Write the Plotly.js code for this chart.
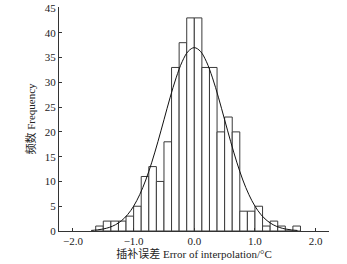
<!DOCTYPE html>
<html>
<head>
<meta charset="utf-8">
<script src="https://cdn.plot.ly/plotly-3.0.1.min.js"></script>
<style>html,body{margin:0;padding:0;background:#fff;}#chart{width:347px;height:264px;}</style>
</head>
<body>
<div id="chart"></div>
<script>
// Histogram bins (left edges, width 0.125 °C) and counts
const binStarts = [-1.625,-1.5,-1.375,-1.25,-1.125,-1.0,-0.875,-0.75,-0.625,-0.5,-0.375,-0.25,-0.125,0,0.125,0.25,0.375,0.5,0.625,0.75,0.875,1.0,1.125,1.25,1.375,1.5,1.625];
const binWidth = 0.125;
const counts = [1,2,2,2,3,5,11,13,10,18,33,38,43,43,33,33,20,23,20,4,4,5,1,2,1,0,1];
// Fitted curve, values
const curveX = [-1.7,-1.6,-1.5,-1.4,-1.3,-1.2,-1.1,-1.0,-0.9,-0.8,-0.7,-0.6,-0.5,-0.4,-0.3,-0.2,-0.1,0,0.1,0.2,0.3,0.4,0.5,0.6,0.7,0.8,0.9,1.0,1.1,1.2,1.3,1.4,1.5,1.6,1.7];
const curveY = [0.11,0.22,0.41,0.73,1.26,2.08,3.29,5.01,7.33,10.29,13.89,18.01,22.44,26.87,30.90,34.16,36.27,37,36.27,34.16,30.90,26.87,22.44,18.01,13.89,10.29,7.33,5.01,3.29,2.08,1.26,0.73,0.41,0.22,0.11];
const xTickVals = [-2,-1,0,1,2];
const xTickText = ['\u22122.0','\u22121.0','0.0','1.0','2.0'];
const yTickVals = [0,5,10,15,20,25,30,35,40,45];

const barX = binStarts.map(b => b + binWidth/2);

const font = {family: 'Liberation Serif, "Noto Sans CJK SC", serif', size: 11, color: '#222'};

Plotly.newPlot('chart', [
  {type:'bar', x: barX, y: counts, width: binWidth,
   marker:{color:'#ffffff', line:{color:'#3a3a3a', width:1}}, hoverinfo:'none'},
  {type:'scatter', mode:'lines', x: curveX, y: curveY,
   line:{color:'#111', width:1, shape:'spline'}, hoverinfo:'none'}
], {
  width:347, height:264,
  margin:{l:59, r:18, t:7, b:33},
  showlegend:false,
  bargap:0,
  paper_bgcolor:'#fff', plot_bgcolor:'#fff',
  font: font,
  xaxis:{range:[-2.23,2.22], tickvals:xTickVals, ticktext:xTickText, ticks:'inside', ticklen:3, tickcolor:'#333',
         showline:true, linecolor:'#333', linewidth:1, showgrid:false, zeroline:false,
         tickfont:{family:font.family, size:11, color:'#222'},
         title:{text:'\u00a0\u00a0\u00a0\u00a0插补误差 Error of interpolation/°C', font:{family:font.family, size:11, color:'#222'}, standoff:3}},
  yaxis:{range:[0,45.2], tickvals:yTickVals, ticks:'inside', ticklen:3, tickcolor:'#333',
         showline:true, linecolor:'#333', linewidth:1, showgrid:false, zeroline:false,
         tickfont:{family:font.family, size:11, color:'#222'},
         title:{text:'频数 Frequency', font:{family:font.family, size:11, color:'#222'}, standoff:6}}
}, {staticPlot:true, displayModeBar:false});
</script>
</body>
</html>
